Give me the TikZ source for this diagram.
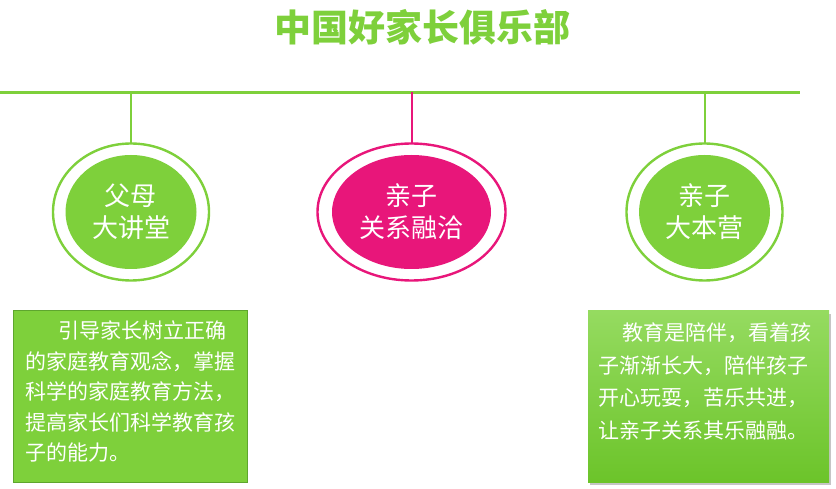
\documentclass[tikz,border=0pt]{standalone}
\usepackage{fontspec}
\setmainfont{Noto Sans CJK SC}
\usetikzlibrary{shadows}
\definecolor{lgreen}{HTML}{7ED03B}
\definecolor{dgreen}{HTML}{5EA62E}
\definecolor{pink}{HTML}{E8167A}
\definecolor{gtop}{HTML}{95DB60}
\definecolor{gbot}{HTML}{6CC42A}
\tikzset{
  ring/.style={draw=#1, line width=2.4pt, fill=white},
  core/.style={fill=#1, draw=none},
  stem/.style={draw=#1, line width=2pt},
  circtext/.style={text=white, align=center, font=\fontsize{26}{32}\selectfont},
  boxtext/.style={text=white, align=left, anchor=north west, inner sep=0pt, font=\fontsize{21}{30.5}\selectfont},
}
\begin{document}
\begin{tikzpicture}[x=1pt,y=-1pt]
\useasboundingbox (0,0) rectangle (836,489);
% title
\node[text=lgreen, font=\fontsize{37}{40}\selectfont\bfseries] (title) at (422,27) {中国好家长俱乐部};
% main bar
\coordinate (barL) at (0,92.5);
\coordinate (barR) at (800,92.5);
\draw[lgreen, line width=3pt] (barL) -- (barR);
% stems
\coordinate (s1) at (131,92.5);
\coordinate (s2) at (411.5,92.5);
\coordinate (s3) at (704.5,92.5);
\coordinate (c1) at (131,212);
\coordinate (c2) at (411.5,212);
\coordinate (c3) at (704.5,212);
\draw[stem=lgreen] (s1) -- ++(0,51);
\draw[stem=pink] (s2) -- ++(0,51);
\draw[stem=lgreen] (s3) -- ++(0,51);
% circles
\path[ring=lgreen] (c1) ellipse [x radius=78, y radius=68.5];
\path[core=lgreen] (c1) ellipse [x radius=65.5, y radius=57];
\path[ring=pink] (c2) ellipse [x radius=94, y radius=68.5];
\path[core=pink] (c2) ellipse [x radius=79.5, y radius=57];
\path[ring=lgreen] (c3) ellipse [x radius=78, y radius=68.5];
\path[core=lgreen] (c3) ellipse [x radius=65.5, y radius=57];
\node[circtext] (t1) at (c1) {父母\\大讲堂};
\node[circtext] (t2) at (c2) {亲子\\关系融洽};
\node[circtext] (t3) at (c3) {亲子\\大本营};
% left box
\path[fill=lgreen, draw=dgreen, line width=1pt] (13.5,310.5) rectangle (247.5,482.5);
\node[boxtext] (lt) at (25.5,321) {\hspace*{33pt}引导家长树立正确\\的家庭教育观念，掌握\\科学的家庭教育方法，\\提高家长们科学教育孩\\子的能力。};
% right box
\path[top color=gtop, bottom color=gbot, drop shadow={shadow xshift=1.5pt, shadow yshift=-3pt, fill=black!45}] (588,311) rectangle (829,482);
\node[boxtext, font=\fontsize{21}{32.5}\selectfont] (rt) at (598,323) {\hspace*{24pt}教育是陪伴，看着孩\\子渐渐长大，陪伴孩子\\开心玩耍，苦乐共进，\\让亲子关系其乐融融。};
\end{tikzpicture}
\end{document}
